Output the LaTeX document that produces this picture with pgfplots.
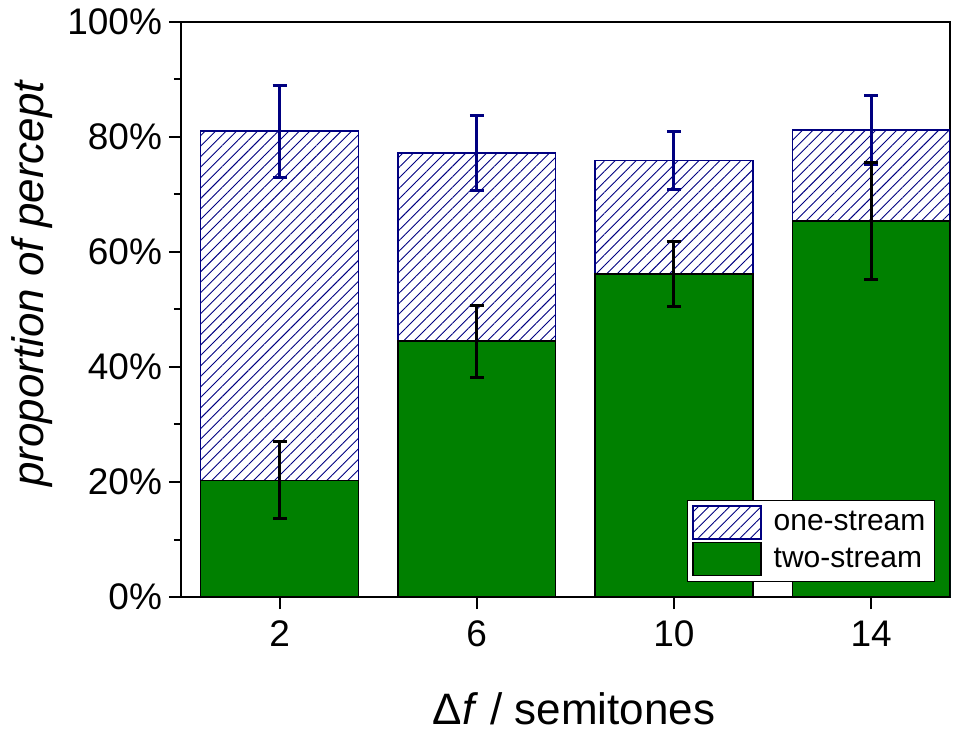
\documentclass[border=0pt]{standalone}
\usepackage{fontspec}
\setmainfont{Liberation Sans}
\usepackage{pgfplots}
\pgfplotsset{compat=1.18}
\usetikzlibrary{patterns.meta}
\definecolor{navyb}{RGB}{0,0,128}
\definecolor{grn}{RGB}{0,128,0}
\begin{document}
\begin{tikzpicture}
\begin{axis}[
  scale only axis, width=384.5pt, height=287.5pt,
  xmin=0, xmax=15.6, ymin=0, ymax=100,
  ybar, bar width=3.2, bar shift=0pt,
  axis line style={line width=1pt},
  every tick/.style={line width=1pt, black},
  tick align=outside, xtick pos=bottom, ytick pos=left,
  major tick length=6pt, minor tick length=3.5pt,
  xtick={2,6,10,14}, xticklabels={2,6,10,14},
  ytick={0,20,40,60,80,100}, yticklabels={0\%,20\%,40\%,60\%,80\%,100\%},
  minor ytick={10,30,50,70,90},
  ticklabel style={font=\fontsize{18.5}{22}\selectfont},
  xticklabel style={yshift=-2.5pt},
  xlabel={Δ\textit{f} / semitones},
  ylabel={\textit{proportion of percept}},
  label style={font=\fontsize{22}{26}\selectfont},
  xlabel style={at={(axis description cs:0.511,-0.195)}, anchor=center},
  ylabel style={at={(axis description cs:-0.193,0.546)}, anchor=center},
  legend style={at={(0.9805,0.026)}, anchor=south east, draw=black, line width=0.6pt,
    font=\fontsize{15}{18}\selectfont, inner xsep=2.5pt, inner ysep=2.5pt, row sep=1pt,
    column sep=4pt, cells={anchor=west}},
  legend image code/.code={\draw[#1,line width=0.75pt] (0pt,-8.25pt) rectangle (34pt,8.25pt);},
]
\addplot[draw=navyb, line width=0.75pt,
  pattern={Lines[angle=45,distance=3.7pt,line width=0.45pt]}, pattern color=navyb,
  error bars/.cd, y dir=both, y explicit,
  error bar style={line width=1.5pt,navyb, solid},
  error mark options={rotate=90,mark size=3.5pt,line width=1.5pt,navyb}]
coordinates {(2,81.0) +- (0,8.0) (6,77.2) +- (0,6.5) (10,75.9) +- (0,5.1) (14,81.2) +- (0,6.0)};
\addlegendentry{one-stream}
\addplot[fill=grn, draw=black, line width=0.75pt,
  error bars/.cd, y dir=both, y explicit,
  error bar style={line width=1.5pt,black, solid},
  error mark options={rotate=90,mark size=3.5pt,line width=1.5pt,black}]
coordinates {(2,20.3) +- (0,6.7) (6,44.5) +- (0,6.25) (10,56.2) +- (0,5.7) (14,65.4) +- (0,10.1)};
\addlegendentry{two-stream}
\coordinate (BL) at (rel axis cs:0,0);
\coordinate (TR) at (rel axis cs:1,1);
\end{axis}
\pgfresetboundingbox
\path[use as bounding box] ([shift={(-90.5pt,-68.5pt)}]BL) rectangle ([shift={(12.5pt,11pt)}]TR);
\end{tikzpicture}
\end{document}
